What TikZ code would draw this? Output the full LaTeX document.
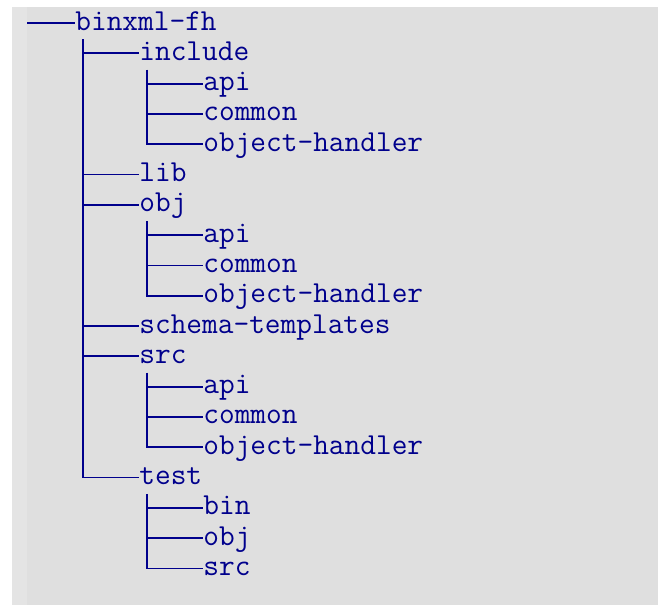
\documentclass[tikz,border=0pt]{standalone}
\usepackage{fontspec}
\usetikzlibrary{positioning}

\definecolor{treeblue}{RGB}{0,0,140}
\definecolor{boxgray}{RGB}{223,223,223}
\definecolor{stripgray}{RGB}{228,228,228}

\begin{document}
\begin{tikzpicture}[
	entry/.style={
		inner sep=0pt,
		text height=11.5pt,
		text depth=4.5pt,
		anchor=west,
		text=treeblue,
		font=\ttfamily\fontsize{15.24}{18}\selectfont,
		},
	branch/.style={
		draw=treeblue,
		line width=0.9pt,
		},
	]

	\useasboundingbox (0,0) rectangle (329pt,-302.5pt);
	\fill[boxgray] (6pt,-3.5pt) rectangle (329pt,-302.5pt);
	\fill[stripgray] (6pt,-3.5pt) rectangle (13.5pt,-302.5pt);

	\coordinate (start) at (13.5pt,-11.5pt);
	\node(root)[entry] at (37.5pt,-11.5pt){binxml-fh};

	\node(inc)[entry, below=15.15pt of root.west, anchor=west, xshift=32pt]{include};
	\node(incapi)[entry, below=15.15pt of inc.west, anchor=west, xshift=32pt]{api};
	\node(inccommon)[entry, below=15.15pt of incapi.west, anchor=west]{common};
	\node(incoh)[entry, below=15.15pt of inccommon.west, anchor=west]{object-handler};
	\node(lib)[entry, below=15.15pt of incoh.west, anchor=west, xshift=-32pt]{lib};
	\node(obj)[entry, below=15.15pt of lib.west, anchor=west]{obj};
	\node(objapi)[entry, below=15.15pt of obj.west, anchor=west, xshift=32pt]{api};
	\node(objcommon)[entry, below=15.15pt of objapi.west, anchor=west]{common};
	\node(objoh)[entry, below=15.15pt of objcommon.west, anchor=west]{object-handler};
	\node(schema)[entry, below=15.15pt of objoh.west, anchor=west, xshift=-32pt]{schema-templates};
	\node(src)[entry, below=15.15pt of schema.west, anchor=west]{src};
	\node(srcapi)[entry, below=15.15pt of src.west, anchor=west, xshift=32pt]{api};
	\node(srccommon)[entry, below=15.15pt of srcapi.west, anchor=west]{common};
	\node(srcoh)[entry, below=15.15pt of srccommon.west, anchor=west]{object-handler};
	\node(test)[entry, below=15.15pt of srcoh.west, anchor=west, xshift=-32pt]{test};
	\node(testbin)[entry, below=15.15pt of test.west, anchor=west, xshift=32pt]{bin};
	\node(testobj)[entry, below=15.15pt of testbin.west, anchor=west]{obj};
	\node(testsrc)[entry, below=15.15pt of testobj.west, anchor=west]{src};

	% bars hang from the first character of each parent
	\coordinate (rootbar) at ([xshift=4pt]root.south west);
	\coordinate (incbar) at ([xshift=4pt]inc.south west);
	\coordinate (objbar) at ([xshift=4pt]obj.south west);
	\coordinate (srcbar) at ([xshift=4pt]src.south west);
	\coordinate (testbar) at ([xshift=4pt]test.south west);

	\path[branch] (start) -- (root.west);

	\path[branch] (rootbar) |- (test.west);
	\foreach \c in {inc,lib,obj,schema,src}
		\path[branch] (rootbar |- \c.west) -- (\c.west);

	\path[branch] (incbar) |- (incoh.west);
	\foreach \c in {incapi,inccommon}
		\path[branch] (incbar |- \c.west) -- (\c.west);

	\path[branch] (objbar) |- (objoh.west);
	\foreach \c in {objapi,objcommon}
		\path[branch] (objbar |- \c.west) -- (\c.west);

	\path[branch] (srcbar) |- (srcoh.west);
	\foreach \c in {srcapi,srccommon}
		\path[branch] (srcbar |- \c.west) -- (\c.west);

	\path[branch] (testbar) |- (testsrc.west);
	\foreach \c in {testbin,testobj}
		\path[branch] (testbar |- \c.west) -- (\c.west);

\end{tikzpicture}
\end{document}
